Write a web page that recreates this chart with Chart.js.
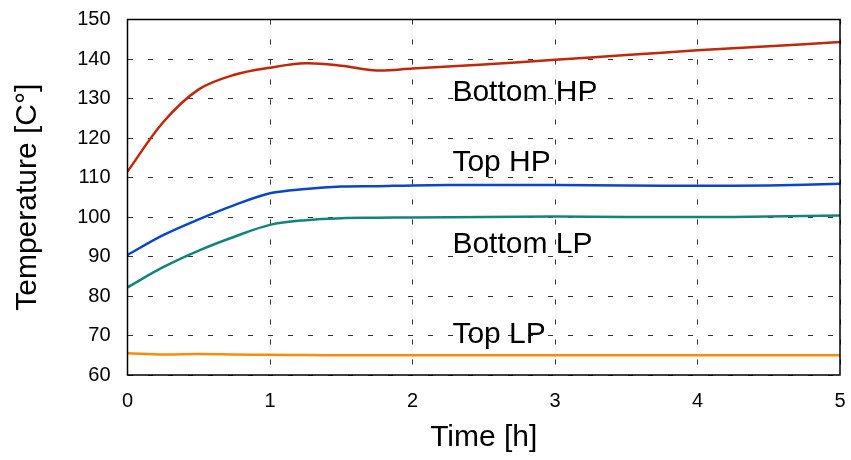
<!DOCTYPE html>
<html>
<head>
<meta charset="utf-8">
<script src="https://cdn.jsdelivr.net/npm/chart.js@4"></script>
<style>
  html, body { margin: 0; padding: 0; background: #fff; }
  #wrap { width: 851px; height: 460px; }
</style>
</head>
<body>
<div id="wrap"><canvas id="temp-chart" width="851" height="460"></canvas></div>
<script>
const timeH = [0, 0.25, 0.5, 0.75, 1, 1.25, 1.5, 1.75, 2, 2.5, 3, 3.5, 4, 4.5, 5];
const bottomHP = [111.5, 124, 132.3, 136, 137.8, 138.9, 138.3, 137.1, 137.6, 138.6, 139.8, 141, 142.2, 143.2, 144.3];
const topHP    = [90.4, 95.4, 99.4, 103, 106, 107.1, 107.7, 107.8, 108, 108.1, 108.1, 108, 107.9, 108, 108.4];
const bottomLP = [82.2, 87.3, 91.5, 95, 98, 99.2, 99.7, 99.8, 99.9, 100, 100.1, 100, 100, 100.1, 100.4];
const topLP    = [65.5, 65.2, 65.3, 65.2, 65.1, 65.05, 65, 65, 65, 65, 65, 65, 65, 65, 65];
const xTicks = [0, 1, 2, 3, 4, 5];
const yTicks = [60, 70, 80, 90, 100, 110, 120, 130, 140, 150];
// label positions: x in hours, y = text baseline in °C
const seriesLabels = [
  { text: 'Bottom HP', x: 2.28, y: 129.4 },
  { text: 'Top HP', x: 2.28, y: 111.7 },
  { text: 'Bottom LP', x: 2.28, y: 90.8 },
  { text: 'Top LP', x: 2.28, y: 68.2 }
];

const FONT = "'Liberation Sans', Arial, sans-serif";
const pts = arr => arr.map((v, i) => ({ x: timeH[i], y: v }));

const frameAndLabels = {
  id: 'frameAndLabels',
  afterDatasetsDraw(chart) {
    const { ctx, chartArea: a, scales } = chart;
    ctx.save();
    ctx.strokeStyle = '#000';
    ctx.lineWidth = 1.5;
    ctx.strokeRect(a.left, a.top, a.right - a.left, a.bottom - a.top);
    ctx.font = '30px ' + FONT;
    ctx.fillStyle = '#000';
    ctx.textBaseline = 'alphabetic';
    ctx.textAlign = 'left';
    seriesLabels.forEach(l => {
      ctx.fillText(l.text, scales.x.getPixelForValue(l.x), scales.y.getPixelForValue(l.y));
    });
    ctx.restore();
  }
};

new Chart(document.getElementById('temp-chart'), {
  type: 'line',
  data: {
    datasets: [
      { label: 'Bottom HP', data: pts(bottomHP), borderColor: '#c0280a' },
      { label: 'Top HP', data: pts(topHP), borderColor: '#0a46c8' },
      { label: 'Bottom LP', data: pts(bottomLP), borderColor: '#13847c' },
      { label: 'Top LP', data: pts(topLP), borderColor: '#ff8a0a' }
    ].map(d => Object.assign(d, { borderWidth: 2.5, pointRadius: 0, tension: 0.35, fill: false }))
  },
  options: {
    responsive: false,
    animation: false,
    layout: { padding: 0 },
    plugins: { legend: { display: false }, tooltip: { enabled: false } },
    scales: {
      x: {
        type: 'linear', min: 0, max: 5,
        afterBuildTicks: s => { s.ticks = xTicks.map(v => ({ value: v })); },
        afterFit: s => { s.height = 85; s.paddingLeft = 0; s.paddingRight = 11; },
        grid: { color: '#333', lineWidth: 1, tickLength: 0, drawTicks: false },
        border: { display: false, dash: [5, 15] },
        ticks: { color: '#000', font: { family: FONT, size: 20 }, padding: 14, maxRotation: 0 },
        title: { display: true, text: 'Time [h]', color: '#000', font: { family: FONT, size: 30 }, padding: { top: 0, bottom: 4 } }
      },
      y: {
        min: 60, max: 150,
        afterBuildTicks: s => { s.ticks = yTicks.map(v => ({ value: v })); },
        afterFit: s => { s.width = 127.5; s.paddingTop = 19.5; s.paddingBottom = 0; },
        grid: { color: '#333', lineWidth: 1, drawTicks: false },
        border: { display: false, dash: [5, 15] },
        ticks: { color: '#000', font: { family: FONT, size: 20 }, padding: 17 },
        title: { display: true, text: 'Temperature [C°]', color: '#000', font: { family: FONT, size: 30 }, padding: { top: 10, bottom: 0 } }
      }
    }
  },
  plugins: [frameAndLabels]
});
</script>
</body>
</html>
